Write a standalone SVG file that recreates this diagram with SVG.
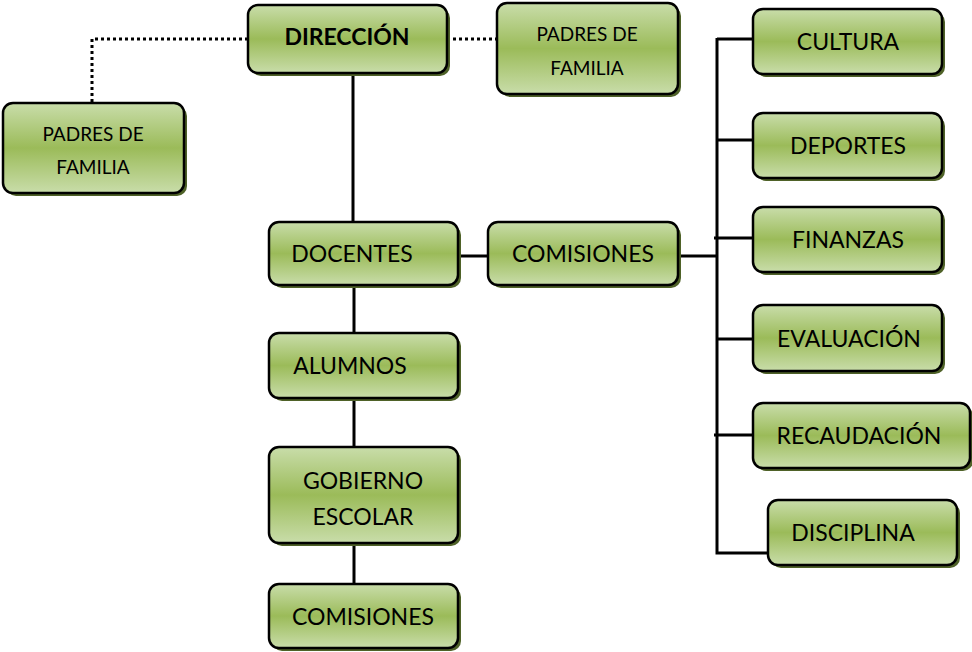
<svg xmlns="http://www.w3.org/2000/svg" width="972" height="652" viewBox="0 0 972 652">
<defs>
<linearGradient id="g" x1="0" y1="0" x2="0" y2="1">
<stop offset="0" stop-color="#c9ddaa"/>
<stop offset="0.5" stop-color="#9bbb59"/>
<stop offset="1" stop-color="#c9ddaa"/>
</linearGradient>
</defs>
<style>
.sh{fill:#4f6228}
.bx{fill:url(#g);stroke:#000;stroke-width:2.5}
.t{font-family:Lato,"Open Sans",sans-serif;font-size:23px;fill:#000;text-anchor:middle;dominant-baseline:central}
.s{font-size:19px}
.b{font-weight:bold}
.ln{stroke:#000;stroke-width:3;fill:none}
.dt{stroke:#000;stroke-width:3;fill:none;stroke-dasharray:3 3}
</style>
<g id="connectors">
<path class="dt" d="M248 39H92V103"/>
<path class="dt" d="M447 39H497"/>
<path class="ln" d="M353 73V222M354 285V333M354 398V447M354 543V584"/>
<path class="ln" d="M458 256H488M678 256H717"/>
<path class="ln" d="M717 38V553H768M717 39H753M717 140H753M714 238H753M717 339H753M714 435H753"/>
</g>
<g id="direccion"><rect class="sh" x="251" y="8" width="199" height="68" rx="10"/><rect class="bx" x="248" y="5" width="199" height="68" rx="10"/><text class="t b" x="347" y="36">DIRECCIÓN</text></g>
<g id="padres1"><rect class="sh" x="500" y="6" width="181" height="91" rx="10"/><rect class="bx" x="497" y="3" width="181" height="91" rx="10"/><text class="t s" x="587" y="33">PADRES DE</text><text class="t s" x="587" y="67">FAMILIA</text></g>
<g id="padres2"><rect class="sh" x="6" y="106" width="181" height="90" rx="10"/><rect class="bx" x="3" y="103" width="181" height="90" rx="10"/><text class="t s" x="93" y="133">PADRES DE</text><text class="t s" x="93" y="166">FAMILIA</text></g>
<g id="docentes"><rect class="sh" x="272" y="225" width="189" height="63" rx="10"/><rect class="bx" x="269" y="222" width="189" height="63" rx="10"/><text class="t" x="352" y="253">DOCENTES</text></g>
<g id="comisiones1"><rect class="sh" x="491" y="225" width="190" height="63" rx="10"/><rect class="bx" x="488" y="222" width="190" height="63" rx="10"/><text class="t" x="583" y="253">COMISIONES</text></g>
<g id="alumnos"><rect class="sh" x="272" y="336" width="189" height="65" rx="10"/><rect class="bx" x="269" y="333" width="189" height="65" rx="10"/><text class="t" x="350" y="365">ALUMNOS</text></g>
<g id="gobierno"><rect class="sh" x="272" y="450" width="189" height="96" rx="10"/><rect class="bx" x="269" y="447" width="189" height="96" rx="10"/><text class="t" x="363" y="480">GOBIERNO</text><text class="t" x="363" y="516">ESCOLAR</text></g>
<g id="comisiones2"><rect class="sh" x="272" y="587" width="189" height="64" rx="10"/><rect class="bx" x="269" y="584" width="189" height="64" rx="10"/><text class="t" x="363" y="616">COMISIONES</text></g>
<g id="cultura"><rect class="sh" x="756" y="12" width="189" height="65" rx="10"/><rect class="bx" x="753" y="9" width="189" height="65" rx="10"/><text class="t" x="848" y="41">CULTURA</text></g>
<g id="deportes"><rect class="sh" x="756" y="116" width="189" height="65" rx="10"/><rect class="bx" x="753" y="113" width="189" height="65" rx="10"/><text class="t" x="848" y="145">DEPORTES</text></g>
<g id="finanzas"><rect class="sh" x="756" y="210" width="189" height="65" rx="10"/><rect class="bx" x="753" y="207" width="189" height="65" rx="10"/><text class="t" x="848" y="239">FINANZAS</text></g>
<g id="evaluacion"><rect class="sh" x="756" y="308" width="189" height="66" rx="10"/><rect class="bx" x="753" y="305" width="189" height="66" rx="10"/><text class="t" x="849" y="338">EVALUACIÓN</text></g>
<g id="recaudacion"><rect class="sh" x="756" y="406" width="217" height="65" rx="10"/><rect class="bx" x="753" y="403" width="217" height="65" rx="10"/><text class="t" x="859" y="435">RECAUDACIÓN</text></g>
<g id="disciplina"><rect class="sh" x="771" y="503" width="189" height="65" rx="10"/><rect class="bx" x="768" y="500" width="189" height="65" rx="10"/><text class="t" x="853" y="532">DISCIPLINA</text></g>
</svg>
